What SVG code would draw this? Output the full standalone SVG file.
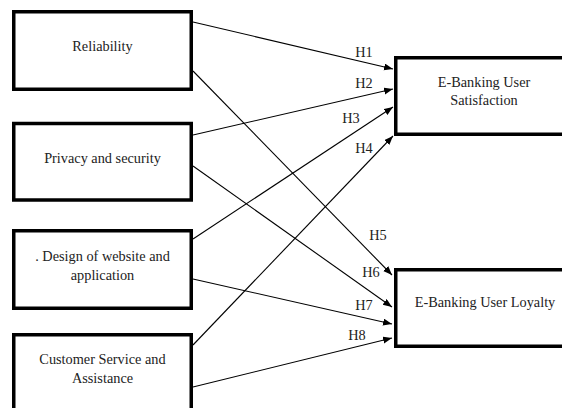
<svg xmlns="http://www.w3.org/2000/svg" width="562" height="408" viewBox="0 0 562 408">
<style>
.box{fill:#fff;stroke:#000;stroke-width:3.5}
.t{font-family:'Liberation Serif','DejaVu Serif',serif;font-size:14.3px;fill:#222;text-anchor:middle}
.c{stroke:#000;stroke-width:1.1;fill:none;marker-end:url(#ah)}
</style>
<defs>
<marker id="ah" markerUnits="userSpaceOnUse" markerWidth="10" markerHeight="8" refX="9" refY="3.5" orient="auto">
<path d="M0,0 L9,3.5 L0,7 Z" fill="#000"/>
</marker>
</defs>
<rect width="562" height="408" fill="#fff"/>
<g id="connectors">
<line class="c" x1="193" y1="22" x2="393" y2="69"/>
<line class="c" x1="193" y1="135" x2="393" y2="89"/>
<line class="c" x1="193" y1="239" x2="393" y2="107"/>
<line class="c" x1="193" y1="345" x2="393" y2="136"/>
<line class="c" x1="193" y1="71" x2="392" y2="275"/>
<line class="c" x1="193" y1="166" x2="392" y2="307"/>
<line class="c" x1="193" y1="279" x2="392" y2="324"/>
<line class="c" x1="193" y1="387" x2="392" y2="338"/>
<text class="t" x="364" y="57">H1</text>
<text class="t" x="364" y="88">H2</text>
<text class="t" x="351" y="123">H3</text>
<text class="t" x="364" y="153">H4</text>
<text class="t" x="378" y="240">H5</text>
<text class="t" x="371" y="277">H6</text>
<text class="t" x="364" y="310">H7</text>
<text class="t" x="357" y="340">H8</text>
</g>
<g id="reliability">
<rect class="box" x="13.75" y="11.75" width="177.5" height="77.5"/>
<text class="t" x="102.5" y="51">Reliability</text>
</g>
<g id="privacy">
<rect class="box" x="13.75" y="123.5" width="177.5" height="76.5"/>
<text class="t" x="102.5" y="163">Privacy and security</text>
</g>
<g id="design">
<rect class="box" x="13.75" y="230.75" width="177.5" height="77.5"/>
<text class="t" x="102.5" y="261">. Design of website and</text>
<text class="t" x="102.5" y="280">application</text>
</g>
<g id="customer">
<rect class="box" x="13.75" y="334.75" width="177.5" height="90"/>
<text class="t" x="102.5" y="364">Customer Service and</text>
<text class="t" x="102.5" y="383">Assistance</text>
</g>
<g id="satisfaction">
<rect class="box" x="395.75" y="57.75" width="200" height="76.5"/>
<text class="t" x="484" y="87">E-Banking User</text>
<text class="t" x="484" y="105">Satisfaction</text>
</g>
<g id="loyalty">
<rect class="box" x="395.75" y="269.75" width="200" height="76.5"/>
<text class="t" x="485" y="307">E-Banking User Loyalty</text>
</g>
</svg>
